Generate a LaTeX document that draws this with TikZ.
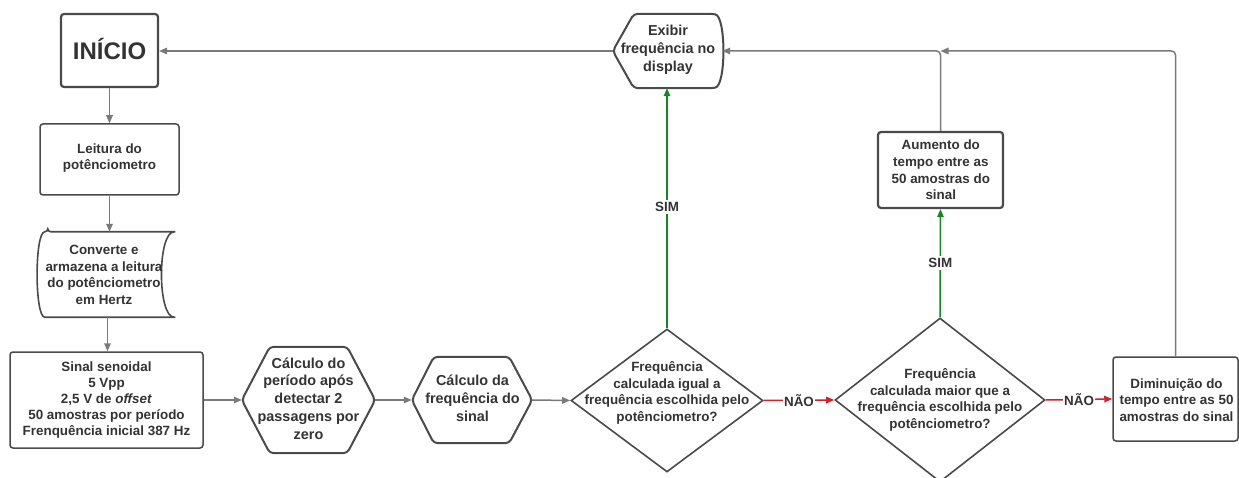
\documentclass[tikz,border=0pt]{standalone}
\usepackage{fontspec}
\setmainfont{Liberation Sans}
\usetikzlibrary{arrows.meta,shapes.geometric,calc}
\definecolor{txtc}{HTML}{333333}
\definecolor{bord}{HTML}{4A4A4A}
\definecolor{lineg}{HTML}{7A7A7A}
\definecolor{sgreen}{HTML}{138A1F}
\definecolor{nred}{HTML}{D3202B}
\begin{document}
\begin{tikzpicture}[x=1pt,y=-1pt,
  txt/.style={text=txtc, font=\fontsize{13.4}{16.6}\selectfont\bfseries, align=center, inner sep=0pt},
  hxt/.style={text=txtc, font=\fontsize{14.4}{17.8}\selectfont\bfseries, align=center, inner sep=0pt},
  box/.style={draw=bord, line width=1.5pt, rounded corners=3pt, fill=white, inner sep=0pt},
  thickbox/.style={box, line width=2.2pt},
  frame/.style={draw=none, inner sep=0pt},
  outline/.style={draw=bord, line width=2pt, rounded corners=4pt, fill=white},
  dia/.style={diamond, draw=bord, line width=1.6pt, fill=white, inner sep=0pt},
  conn/.style={draw=lineg, line width=1.5pt, -{Triangle[length=8pt,width=6.5pt]}},
  yes/.style={conn, draw=sgreen},
  no/.style={conn, draw=nred},
  lbl/.style={txt, fill=white, inner sep=2.5pt},
]
\useasboundingbox (0,0) rectangle (1239,478);
\clip (0,0) rectangle (1239,478);

% ---- nodes ----
\node[thickbox, minimum width=97pt, minimum height=73pt] (ini) at (109.5,50.5) {};
\node[text=txtc, font=\fontsize{24}{28}\selectfont\bfseries] at (109.5,49) {INÍCIO};

\node[box, minimum width=139pt, minimum height=71pt] (lei) at (109.5,159.5) {};
\node[txt] at (109.5,158) {Leitura do\\potênciometro};

\node[frame, minimum width=139pt, minimum height=85pt] (cv) at (107.5,274.5) {};
\draw[outline, line width=1.6pt, rounded corners=3pt]
  ($(cv.north west)+(10,0)$) -- (cv.north east)
  .. controls ($(cv.north east)+(-20,0)$) and ($(cv.south east)+(-20,0)$) .. (cv.south east)
  -- ($(cv.south west)+(10,0)$)
  .. controls ($(cv.south west)+(-3.3,0)$) and ($(cv.north west)+(-3.3,0)$) .. cycle;
\node[txt] at (104,275) {Converte e\\armazena a leitura\\do potênciometro\\em Hertz};

\node[box, minimum width=193pt, minimum height=96pt] (sin) at (106.5,400) {};
\node[txt, font=\fontsize{13.4}{16}\selectfont\bfseries] at (106.5,400.5) {Sinal senoidal\\5 Vpp\\2,5 V de \textit{offset}\\50 amostras por período\\Frenquência inicial 387 Hz};

\node[frame, minimum width=133pt, minimum height=106pt] (h1) at (308.5,400) {};
\draw[outline] (h1.west) -- ($(h1.north west)+(28,0)$) -- ($(h1.north east)+(-28,0)$) -- (h1.east)
  -- ($(h1.south east)+(-28,0)$) -- ($(h1.south west)+(28,0)$) -- cycle;
\node[hxt] at (308.5,398.5) {Cálculo do\\período após\\detectar 2\\passagens por\\zero};

\node[frame, minimum width=120pt, minimum height=86pt] (h2) at (472,400) {};
\draw[outline] (h2.west) -- ($(h2.north west)+(22,0)$) -- ($(h2.north east)+(-23,0)$) -- (h2.east)
  -- ($(h2.south east)+(-23,0)$) -- ($(h2.south west)+(22,0)$) -- cycle;
\node[hxt] at (472.5,398) {Cálculo da\\frequência do\\sinal};

\node[dia, minimum width=192pt, minimum height=143pt] (d1) at (667,400.5) {};
\node[txt] at (667,393) {Frequência\\calculada igual a\\frequência escolhida pelo\\potênciometro?};

\node[frame, minimum width=109pt, minimum height=74pt] (ex) at (667.5,51) {};
\draw[outline] (ex.west) -- ($(ex.north west)+(21,0)$) -- ($(ex.north east)+(-11,0)$)
  .. controls ($(ex.north east)+(4,2)$) and ($(ex.south east)+(4,-2)$) .. ($(ex.south east)+(-11,0)$)
  -- ($(ex.south west)+(21,0)$) -- cycle;
\node[hxt] at (668,50) {Exibir\\frequência no\\display};

\node[thickbox, minimum width=125pt, minimum height=76pt] (aum) at (940.5,170) {};
\node[txt] at (940.8,170) {Aumento do\\tempo entre as\\50 amostras do\\sinal};

\node[dia, minimum width=210pt, minimum height=164pt] (d2) at (940,400) {};
\node[txt] at (940,400) {Frequência\\calculada maior que a\\frequência escolhida pelo\\potênciometro?};

\node[box, minimum width=125pt, minimum height=84pt] (dim) at (1175.5,399) {};
\node[txt] at (1176.5,400) {Diminuição do\\tempo entre as 50\\amostras do sinal};

\coordinate (j) at (aum.north |- ex.east);

% ---- connectors ----
\draw[conn] (ex.west) -- (ex.west -| ini.east);
\draw[conn] (ini.south) -- (lei.north);
\draw[conn] (lei.south) -- (lei.south |- cv.north);
\draw[conn] (cv.south) -- (cv.south |- sin.north);
\draw[conn] (sin.east) -- (h1.west);
\draw[conn] (h1.east) -- (h2.west);
\draw[conn] (h2.east) -- (d1.west);
\draw[yes] (d1.north) -- node[lbl, pos=0.506] {SIM} (d1.north |- ex.south);
\draw[no] (d1.east) -- node[lbl, inner sep=1pt] {NÃO} (d2.west);
\draw[yes] (d2.north) -- node[lbl] {SIM} (aum.south);
\draw[no] (d2.east) -- node[lbl, inner sep=1pt] {NÃO} (dim.west);
\draw[conn, rounded corners=4pt] (aum.north) |- (ex.east);
\draw[conn, rounded corners=4pt] (dim.north) |- (j);
\end{tikzpicture}
\end{document}
